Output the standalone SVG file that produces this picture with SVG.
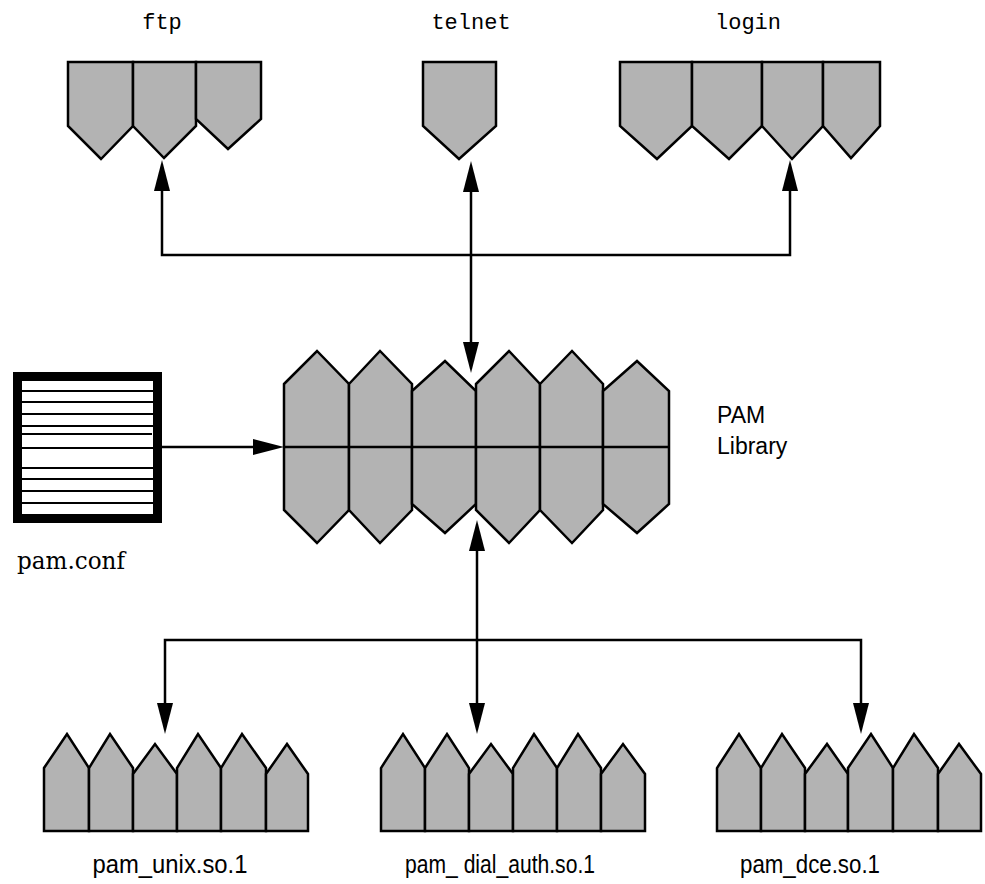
<svg xmlns="http://www.w3.org/2000/svg" width="985" height="884" viewBox="0 0 985 884">
  <style>
    .cell { fill: #b3b3b3; stroke: #000; stroke-width: 2.5; stroke-linejoin: miter; }
    .wire { fill: none; stroke: #000; stroke-width: 2.5; }
    .head { fill: #000; stroke: none; }
    .mono { font-family: "Liberation Mono", "DejaVu Sans Mono", monospace; font-size: 22px; fill: #000; }
    .sans { font-family: "Liberation Sans", Arial, sans-serif; font-size: 23px; fill: #000; }
    .label { font-family: "Liberation Sans", Arial, sans-serif; font-size: 25px; fill: #000; }
    .serif { font-family: "DejaVu Serif", "Liberation Serif", serif; font-size: 24px; fill: #000; }
    .rule { stroke: #000; stroke-width: 2.2; }
  </style>
  <rect width="985" height="884" fill="#fff"/>

  <!-- Applications -->
  <g id="ftp">
    <polygon class="cell" points="68,62 133,62 133,126 101,159 68,126"/>
    <polygon class="cell" points="133,62 196,62 196,126 164,158 133,126"/>
    <polygon class="cell" points="196,62 261,62 261,119 228,149 196,119"/>
    <text class="mono" x="162" y="29" text-anchor="middle">ftp</text>
  </g>
  <g id="telnet">
    <polygon class="cell" points="423,62 496,62 496,126 459,159 423,126"/>
    <text class="mono" x="471" y="29" text-anchor="middle">telnet</text>
  </g>
  <g id="login">
    <polygon class="cell" points="620,62 692,62 692,126 657,159 620,126"/>
    <polygon class="cell" points="692,62 762,62 762,126 729,159 692,126"/>
    <polygon class="cell" points="762,62 823,62 823,126 792,159 762,126"/>
    <polygon class="cell" points="823,62 880,62 880,126 851,158 823,126"/>
    <text class="mono" x="748" y="29" text-anchor="middle">login</text>
  </g>

  <!-- PAM library -->
  <g id="pam-library">
    <polygon class="cell" points="284,384 317,351 349,384 349,510 317,543 284,510"/>
    <polygon class="cell" points="349,384 380,351 412,384 412,510 380,543 349,510"/>
    <polygon class="cell" points="412,391 445,361 476,391 476,504 445,533 412,504"/>
    <polygon class="cell" points="476,384 509,351 540,384 540,510 509,543 476,510"/>
    <polygon class="cell" points="540,384 572,351 603,384 603,510 572,543 540,510"/>
    <polygon class="cell" points="603,391 637,361 669,391 669,504 637,533 603,504"/>
    <line class="wire" x1="284" y1="447" x2="669" y2="447"/>
    <text class="sans" x="717" y="423">PAM</text>
    <text class="sans" x="717" y="454">Library</text>
  </g>

  <!-- Configuration file -->
  <g id="pam-conf">
    <rect x="17.5" y="376.5" width="140" height="142" fill="#fff" stroke="#000" stroke-width="9"/>
    <line class="rule" x1="22" y1="391" x2="154" y2="391"/>
    <line class="rule" x1="22" y1="402" x2="154" y2="402"/>
    <line class="rule" x1="22" y1="414" x2="154" y2="414"/>
    <line class="rule" x1="22" y1="426" x2="154" y2="426"/>
    <line class="rule" x1="22" y1="434" x2="152" y2="434" stroke-width="3"/>
    <line class="rule" x1="22" y1="448" x2="154" y2="448"/>
    <line class="rule" x1="22" y1="468" x2="154" y2="468"/>
    <line class="rule" x1="22" y1="479" x2="154" y2="479"/>
    <line class="rule" x1="22" y1="491" x2="153" y2="491"/>
    <line class="rule" x1="22" y1="503" x2="154" y2="503"/>
    <text class="serif" x="17" y="569" textLength="108" lengthAdjust="spacingAndGlyphs">pam.conf</text>
  </g>

  <!-- Service modules -->
  <g id="pam-unix">
    <polygon class="cell" points="44,831 44,768 67,734 89,768 89,831"/>
    <polygon class="cell" points="89,831 89,768 110,734 133,768 133,831"/>
    <polygon class="cell" points="133,831 133,774 155,744 177,774 177,831"/>
    <polygon class="cell" points="177,831 177,768 198,734 221,768 221,831"/>
    <polygon class="cell" points="221,831 221,768 242,734 266,768 266,831"/>
    <polygon class="cell" points="266,831 266,774 287,744 308,774 308,831"/>
    <text class="label" x="170" y="873" text-anchor="middle" textLength="155" lengthAdjust="spacingAndGlyphs">pam_unix.so.1</text>
  </g>
  <g id="pam-dial-auth">
    <polygon class="cell" points="381,831 381,768 403,734 425,768 425,831"/>
    <polygon class="cell" points="425,831 425,768 447,734 469,768 469,831"/>
    <polygon class="cell" points="469,831 469,774 491,744 513,774 513,831"/>
    <polygon class="cell" points="513,831 513,768 534,734 557,768 557,831"/>
    <polygon class="cell" points="557,831 557,768 578,734 601,768 601,831"/>
    <polygon class="cell" points="601,831 601,774 623,744 645,774 645,831"/>
    <text class="label" x="500" y="873" text-anchor="middle" textLength="190" lengthAdjust="spacingAndGlyphs">pam_ dial_auth.so.1</text>
  </g>
  <g id="pam-dce">
    <polygon class="cell" points="717,831 717,768 739,734 761,768 761,831"/>
    <polygon class="cell" points="761,831 761,768 782,734 805,768 805,831"/>
    <polygon class="cell" points="805,831 805,774 827,744 848,774 848,831"/>
    <polygon class="cell" points="848,831 848,768 871,734 893,768 893,831"/>
    <polygon class="cell" points="893,831 893,768 914,734 938,768 938,831"/>
    <polygon class="cell" points="938,831 938,774 959,744 981,774 981,831"/>
    <text class="label" x="810" y="873" text-anchor="middle" textLength="140" lengthAdjust="spacingAndGlyphs">pam_dce.so.1</text>
  </g>

  <!-- Connectors -->
  <g id="connectors">
    <!-- applications bus -->
    <polyline class="wire" points="162,190 162,255 790,255 790,190"/>
    <line class="wire" x1="471" y1="190" x2="471" y2="345"/>
    <polygon class="head" points="162,160 154,191 170,191"/>
    <polygon class="head" points="790,160 782,191 798,191"/>
    <polygon class="head" points="471,161 463,192 479,192"/>
    <polygon class="head" points="471,373 463,342 479,342"/>
    <!-- configuration feed -->
    <line class="wire" x1="162" y1="447" x2="256" y2="447"/>
    <polygon class="head" points="284,447 253,439 253,455"/>
    <!-- modules bus -->
    <line class="wire" x1="477" y1="548" x2="477" y2="706"/>
    <polyline class="wire" points="165,706 165,640 861,640 861,706"/>
    <polygon class="head" points="477,520 469,551 485,551"/>
    <polygon class="head" points="165,734 157,703 173,703"/>
    <polygon class="head" points="477,734 469,703 485,703"/>
    <polygon class="head" points="861,734 853,703 869,703"/>
  </g>
</svg>
